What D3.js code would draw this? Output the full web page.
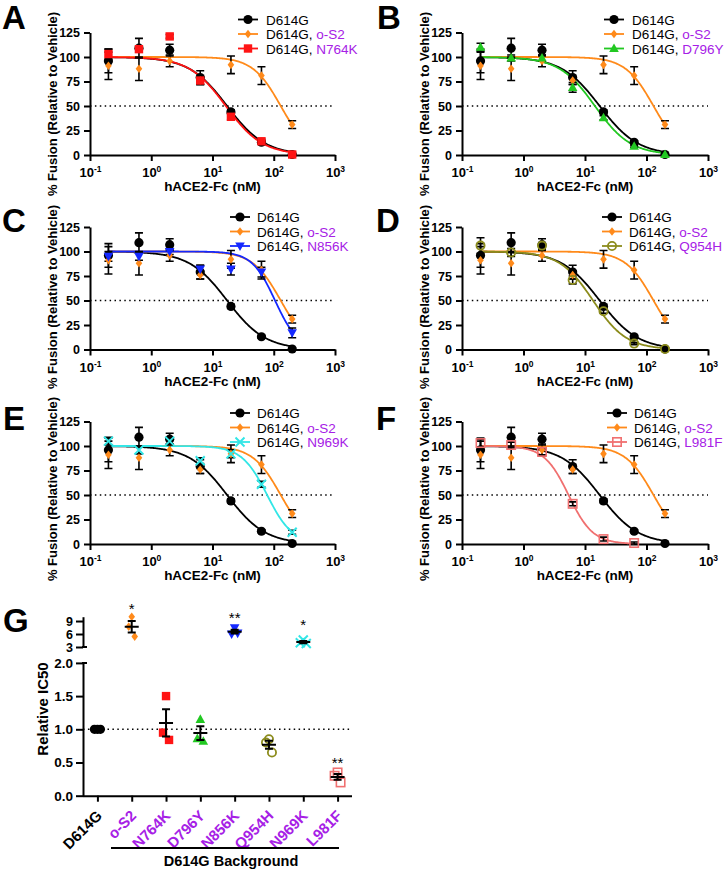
<!DOCTYPE html>
<html><head><meta charset="utf-8">
<script src="https://cdn.jsdelivr.net/npm/d3@7"></script>
<style>
body{margin:0;background:#fff}
svg{display:block}
text{font-family:"Liberation Sans",Arial,Helvetica,sans-serif}
</style>
</head><body>
<svg id="c" width="725" height="870"></svg>
<script>
// ---------------- DATA ----------------
const conc = [0.2, 0.63, 2, 6.3, 20, 63, 200];
const d614gMean = [96, 109, 107, 79, 44, 13, 0.5];
const d614gSem  = [12, 10, 6, 7, 2, 1.5, 1];
const os2Mean   = [91, 88, 96, 76, 92, 81, 31];
const os2Sem    = [14, 12, 6, 4, 9, 9, 4];
const n764kMean = [103, 108, 121, 76, 39, 14, 0.5];
const n764kSem  = [5, 3, 2, 4, 3, 2, 1];
const d796yMean = [110, 99, 99, 69, 38, 9, 0.5];
const d796ySem  = [4, 3, 3, 5, 2, 1, 1];
const n856kMean = [95, 95, 100, 82, 82, 79, 17];
const n856kSem  = [5, 4, 3, 4, 6, 5, 5];
const q954hMean = [106, 99, 106, 71, 39, 6, 0.5];
const q954hSem  = [8, 4, 3, 4, 2, 1, 1];
const n969kMean = [105, 96, 105, 85, 92, 61, 12];
const n969kSem  = [4, 4, 3, 3, 4, 3, 2];
const l981fConc = [0.2, 0.63, 2, 6.3, 20, 63];
const l981fMean = [103, 101, 94, 41, 5, 1];
const l981fSem  = [4, 3, 3, 2, 2, 1];

// fitted 4-parameter logistic (top 100, bottom 0)
const fitNames = ["D614G", "o-S2", "N764K", "D796Y", "N856K", "Q954H", "N969K", "L981F"];
const fitIC50  = [17.3, 130, 16.5, 14.5, 105, 13.5, 78, 5.4];
const fitHill  = [1.4, 1.9, 1.45, 1.5, 2.3, 1.6, 2.1, 2.2];

const yTicks = [0, 25, 50, 75, 100, 125];
const xTickExp = ["-1", "0", "1", "2", "3"];
const xTickVals = [0.1, 1, 10, 100, 1000];

// Panel G
const gCategories = ["D614G", "o-S2", "N764K", "D796Y", "N856K", "Q954H", "N969K", "L981F"];
const gReplicates = [[1, 1, 1], [10, 7.7, 5.4], [1.5, 0.95, 0.84], [1.15, 0.86, 0.82],
                     [7.4, 6.0, 6.2], [0.85, 0.80, 0.65], [4.6, 4.0, 3.8], [0.35, 0.30, 0.20]];
const gStars = ["", "*", "", "", "**", "", "*", "**"];
const gStarLevel = [null, 10.85, null, null, 8.8, null, 7.15, 0.43];
const gTopTicks = [3, 6, 9];
const gBottomTicks = [0, 0.5, 1.0, 1.5, 2.0];

// ---------------- STYLE ----------------
const PURPLE = "#a620e6";
const colors = {"D614G": "#000000", "o-S2": "#ff8a1a", "N764K": "#ff1414", "D796Y": "#22c822",
  "N856K": "#1428ff", "Q954H": "#8c8c1c", "N969K": "#33e6e6", "L981F": "#f07070"};
const shapes = {"D614G": "circle", "o-S2": "diamond", "N764K": "square", "D796Y": "triUp",
  "N856K": "triDown", "Q954H": "openCircle", "N969K": "cross", "L981F": "openSquare"};

const series = {
  "D614G": {c: conc, m: d614gMean, s: d614gSem},
  "o-S2":  {c: conc, m: os2Mean, s: os2Sem},
  "N764K": {c: conc, m: n764kMean, s: n764kSem},
  "D796Y": {c: conc, m: d796yMean, s: d796ySem},
  "N856K": {c: conc, m: n856kMean, s: n856kSem},
  "Q954H": {c: conc, m: q954hMean, s: q954hSem},
  "N969K": {c: conc, m: n969kMean, s: n969kSem},
  "L981F": {c: l981fConc, m: l981fMean, s: l981fSem}
};

const panels = [
  {id: "A", mut: "N764K", x0: 90, x1: 335, y0: 155, lx: 238, tx: 266, ly: 19.5, lX: 2, lY: 29, ytY: 104},
  {id: "B", mut: "D796Y", x0: 462, x1: 708, y0: 155, lx: 604, tx: 632, ly: 19.5, lX: 377, lY: 29, ytY: 104},
  {id: "C", mut: "N856K", x0: 90, x1: 335, y0: 349.5, lx: 230, tx: 257, ly: 217, lX: 2, lY: 232, ytY: 297},
  {id: "D", mut: "Q954H", x0: 462, x1: 708, y0: 349.5, lx: 602, tx: 629, ly: 217, lX: 376, lY: 232, ytY: 297},
  {id: "E", mut: "N969K", x0: 90, x1: 335, y0: 544, lx: 230, tx: 257, ly: 413, lX: 3, lY: 430, ytY: 489},
  {id: "F", mut: "L981F", x0: 462, x1: 708, y0: 544, lx: 607, tx: 634, ly: 413, lX: 376, lY: 430, ytY: 489}
];

const svg = d3.select("#c");

function marker(g, shape, x, y, color) {
  switch (shape) {
    case "circle":
      g.append("circle").attr("cx", x).attr("cy", y).attr("r", 4.6).attr("fill", color); break;
    case "diamond":
      g.append("path").attr("d", `M${x},${y - 4.3}L${x + 3.3},${y}L${x},${y + 4.3}L${x - 3.3},${y}Z`).attr("fill", color); break;
    case "square":
      g.append("rect").attr("x", x - 4.2).attr("y", y - 4.2).attr("width", 8.4).attr("height", 8.4).attr("fill", color); break;
    case "triUp":
      g.append("path").attr("d", `M${x},${y - 5}L${x + 4.8},${y + 3.6}L${x - 4.8},${y + 3.6}Z`).attr("fill", color); break;
    case "triDown":
      g.append("path").attr("d", `M${x},${y + 5}L${x + 4.8},${y - 3.6}L${x - 4.8},${y - 3.6}Z`).attr("fill", color); break;
    case "openCircle":
      g.append("circle").attr("cx", x).attr("cy", y).attr("r", 4.1).attr("fill", "none").attr("stroke", color).attr("stroke-width", 1.8); break;
    case "cross":
      g.append("path").attr("d", `M${x - 4.5},${y - 4.5}L${x + 4.5},${y + 4.5}M${x - 4.5},${y + 4.5}L${x + 4.5},${y - 4.5}`)
        .attr("stroke", color).attr("stroke-width", 2).attr("fill", "none"); break;
    case "openSquare":
      g.append("rect").attr("x", x - 4.2).attr("y", y - 4.2).attr("width", 8.4).attr("height", 8.4)
        .attr("fill", "none").attr("stroke", color).attr("stroke-width", 1.6); break;
  }
}

function styleAxis(sel) {
  sel.selectAll("path.domain").attr("stroke", "#000").attr("stroke-width", 2);
  sel.selectAll(".tick line").attr("stroke", "#000").attr("stroke-width", 2);
}

function drawPanel(p) {
  const g = svg.append("g");
  const x = d3.scaleLog().domain([0.1, 1000]).range([p.x0, p.x1]);
  const y = d3.scaleLinear().domain([0, 125]).range([p.y0, p.y0 - 122.5]);

  // dotted 50% line
  g.append("line").attr("x1", p.x0).attr("x2", p.x1).attr("y1", y(50)).attr("y2", y(50))
    .attr("stroke", "#000").attr("stroke-width", 1.5).attr("stroke-dasharray", "1.5,3.4");

  // axes
  const xa = g.append("g").attr("transform", `translate(0,${p.y0})`)
    .call(d3.axisBottom(x).tickValues(xTickVals).tickFormat("").tickSize(6).tickSizeOuter(0));
  styleAxis(xa);
  xa.selectAll(".tick").each(function (d, i) {
    const t = d3.select(this).append("text").attr("y", 22).attr("text-anchor", "middle")
      .attr("fill", "#000").attr("font-size", 13).attr("font-weight", "bold");
    t.append("tspan").text("10");
    t.append("tspan").attr("dy", -5).attr("font-size", 8.5).text(xTickExp[i]);
  });

  const ya = g.append("g").attr("transform", `translate(${p.x0},0)`)
    .call(d3.axisLeft(y).tickValues(yTicks).tickSize(6).tickPadding(4).tickSizeOuter(0));
  styleAxis(ya);
  ya.selectAll(".tick text").attr("font-size", 12.5).attr("font-weight", "bold").attr("fill", "#000")
    .attr("font-family", '"Liberation Sans",Arial,sans-serif');

  // titles
  g.append("text").attr("x", (p.x0 + p.x1) / 2).attr("y", p.y0 + 36).attr("text-anchor", "middle")
    .attr("font-size", 13.5).attr("font-weight", "bold").text("hACE2-Fc (nM)");
  g.append("text").attr("transform", `translate(${p.x0 - 33},${p.ytY}) rotate(-90)`)
    .attr("text-anchor", "middle").attr("font-size", 13).attr("font-weight", "bold")
    .text("% Fusion (Relative to Vehicle)");
  g.append("text").attr("x", p.lX).attr("y", p.lY).attr("font-size", 33).attr("font-weight", "bold").text(p.id);

  const names = ["D614G", "o-S2", p.mut];
  const line = d3.line().x(d => x(d[0])).y(d => y(d[1]));

  // curves
  names.forEach(n => {
    const k = fitNames.indexOf(n);
    const c = series[n].c;
    const lo = Math.log10(c[0]), hi = Math.log10(c[c.length - 1]);
    const pts = d3.range(0, 201).map(i => {
      const xv = Math.pow(10, lo + (hi - lo) * i / 200);
      return [xv, 100 / (1 + Math.pow(xv / fitIC50[k], fitHill[k]))];
    });
    g.append("path").attr("d", line(pts)).attr("fill", "none").attr("stroke", colors[n]).attr("stroke-width", 1.8);
  });

  // error bars
  names.forEach(n => {
    const s = series[n];
    s.c.forEach((cv, i) => {
      if (!s.s[i]) return;
      const xx = x(cv), yt = y(s.m[i] + s.s[i]), yb = y(s.m[i] - s.s[i]);
      g.append("path").attr("d", `M${xx},${yt}L${xx},${yb}M${xx - 4},${yt}L${xx + 4},${yt}M${xx - 4},${yb}L${xx + 4},${yb}`)
        .attr("stroke", "#000").attr("stroke-width", 1.6).attr("fill", "none");
    });
  });

  // points
  names.forEach(n => {
    const s = series[n];
    s.c.forEach((cv, i) => marker(g, shapes[n], x(cv), y(s.m[i]), colors[n]));
  });

  // legend
  names.forEach((n, i) => {
    const ly = p.ly + i * 14.5;
    g.append("line").attr("x1", p.lx).attr("x2", p.lx + 20).attr("y1", ly).attr("y2", ly)
      .attr("stroke", colors[n]).attr("stroke-width", 1.8);
    marker(g, shapes[n], p.lx + 10, ly, colors[n]);
    const t = g.append("text").attr("x", p.tx).attr("y", ly + 5).attr("font-size", 13.5).attr("fill", "#000");
    if (i === 0) t.text("D614G");
    else {
      t.append("tspan").text("D614G, ");
      t.append("tspan").attr("fill", PURPLE).text(n);
    }
  });
}

panels.forEach(drawPanel);

// ---------------- PANEL G ----------------
(function () {
  const g = svg.append("g");
  const ax = 83;
  const xG = d3.scalePoint().domain(gCategories).range([83, 352]).padding(0.42);
  const yTop = d3.scaleLinear().domain([3, 10]).range([647, 616.7]);
  const yBot = d3.scaleLinear().domain([0, 2]).range([795.7, 662.9]);
  const yG = v => (v >= 2.5 ? yTop(v) : yBot(v));
  const jitter = [0, -3, 3];

  // dotted line at 1.0
  g.append("line").attr("x1", ax).attr("x2", 352).attr("y1", yBot(1)).attr("y2", yBot(1))
    .attr("stroke", "#000").attr("stroke-width", 1.5).attr("stroke-dasharray", "1.5,3.4");

  // axes
  const xa = g.append("g").attr("transform", `translate(0,${yBot(0)})`)
    .call(d3.axisBottom(xG).tickSize(6).tickSizeOuter(0).tickFormat(""));
  xa.select("path.domain").attr("d", `M${ax},0.5H352`);
  styleAxis(xa);
  xa.selectAll(".tick").append("text")
    .attr("transform", "translate(5,21) rotate(-45)")
    .attr("text-anchor", "end").attr("font-size", 15).attr("font-weight", "bold")
    .attr("fill", (d, i) => (i === 0 ? "#000" : PURPLE)).text(d => d);

  const yb = g.append("g").attr("transform", `translate(${ax},0)`)
    .call(d3.axisLeft(yBot).tickValues(gBottomTicks).tickFormat(d3.format(".1f")).tickSize(7).tickPadding(3).tickSizeOuter(0));
  styleAxis(yb);
  yb.selectAll(".tick text").attr("font-size", 13.5).attr("font-weight", "bold").attr("fill", "#000")
    .attr("font-family", '"Liberation Sans",Arial,sans-serif');

  const yt = g.append("g").attr("transform", `translate(${ax},0)`)
    .call(d3.axisLeft(yTop).tickValues(gTopTicks).tickFormat(d3.format("d")).tickSize(7).tickPadding(3).tickSizeOuter(0));
  styleAxis(yt);
  yt.selectAll(".tick text").attr("font-size", 12.5).attr("font-weight", "bold").attr("fill", "#000")
    .attr("font-family", '"Liberation Sans",Arial,sans-serif');

  // break marks
  g.append("path").attr("d", `M${ax - 1},${yTop(3)}H${ax + 4}M${ax - 1},${yBot(2)}H${ax + 4}`)
    .attr("stroke", "#000").attr("stroke-width", 2);

  // bracket & labels
  g.append("line").attr("x1", 111).attr("x2", 339).attr("y1", 848).attr("y2", 848)
    .attr("stroke", "#000").attr("stroke-width", 2.2);
  g.append("text").attr("x", 231).attr("y", 866).attr("text-anchor", "middle")
    .attr("font-size", 14.5).attr("font-weight", "bold").text("D614G Background");
  g.append("text").attr("transform", "translate(48,709) rotate(-90)").attr("text-anchor", "middle")
    .attr("font-size", 15).attr("font-weight", "bold").text("Relative IC50");
  g.append("text").attr("x", 3).attr("y", 632).attr("font-size", 33).attr("font-weight", "bold").text("G");

  // points, mean, SEM
  gCategories.forEach((cat, ci) => {
    const vals = gReplicates[ci];
    const cx = xG(cat);
    vals.forEach((v, j) => marker(g, shapes[cat], cx + jitter[j], yG(v), colors[cat]));
    const m = d3.mean(vals);
    const sem = d3.deviation(vals) / Math.sqrt(vals.length);
    const y1 = yG(m + sem), y2 = yG(m - sem), ym = yG(m);
    g.append("path").attr("d",
      `M${cx - 7},${ym}H${cx + 7}M${cx},${y1}V${y2}M${cx - 4},${y1}H${cx + 4}M${cx - 4},${y2}H${cx + 4}`)
      .attr("stroke", "#000").attr("stroke-width", 2).attr("fill", "none");
    if (gStars[ci]) {
      g.append("text").attr("x", cx).attr("y", yG(gStarLevel[ci]) + 1).attr("text-anchor", "middle")
        .attr("font-size", 15).text(gStars[ci]);
    }
  });
})();
</script>
</body></html>
